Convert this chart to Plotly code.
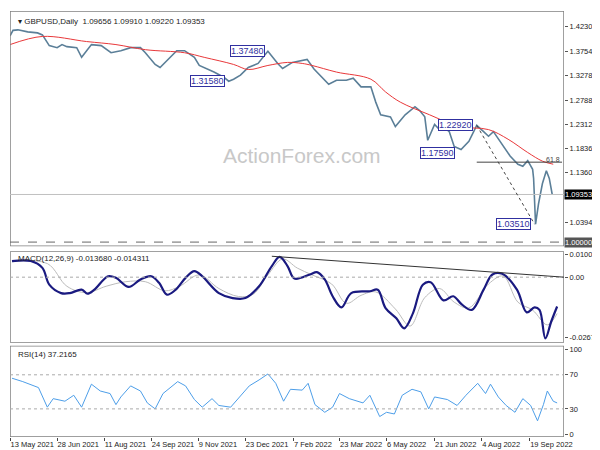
import plotly.graph_objects as go

# price panel (x in bar numbers, ~1.5 px per bar)
price_px = [2, 5, 10, 20, 30, 35, 42, 50, 55, 60, 70, 75, 85, 95, 105, 115, 125, 135, 140, 150, 155, 165, 172, 180,
            190, 195, 200, 210, 220, 225, 230, 237, 245, 255, 262, 265, 275, 280, 290, 300, 305, 312, 320, 327, 335,
            345, 352, 360, 370, 375, 380, 390, 395, 405, 415, 420, 425, 428, 435, 440, 445, 450, 455, 462, 470, 478,
            485, 490, 495, 505, 512, 520, 525, 530, 535, 536, 538, 541, 545, 549, 552, 555]
price = [1.405, 1.416, 1.417, 1.413, 1.411, 1.407, 1.386, 1.382, 1.388, 1.384, 1.382, 1.363, 1.388, 1.386, 1.372,
         1.376, 1.382, 1.382, 1.372, 1.349, 1.343, 1.363, 1.376, 1.376, 1.363, 1.347, 1.343, 1.334, 1.324, 1.316,
         1.320, 1.328, 1.343, 1.351, 1.368, 1.3748, 1.351, 1.341, 1.353, 1.357, 1.359, 1.340, 1.324, 1.310, 1.318,
         1.318, 1.322, 1.305, 1.305, 1.275, 1.250, 1.246, 1.227, 1.250, 1.266, 1.258, 1.246, 1.200, 1.231, 1.221,
         1.225, 1.217, 1.188, 1.182, 1.198, 1.2292, 1.217, 1.208, 1.217, 1.188, 1.169, 1.153, 1.149, 1.160, 1.143,
         1.125, 1.0351, 1.075, 1.115, 1.140, 1.125, 1.0935]
ma_px = [2, 35, 80, 110, 140, 180, 200, 230, 245, 265, 285, 300, 310, 335, 370, 385, 400, 430, 460, 490, 510, 530, 545, 556]
ma = [1.388, 1.404, 1.394, 1.388, 1.378, 1.372, 1.363, 1.349, 1.339, 1.347, 1.353, 1.351, 1.347, 1.334, 1.320,
      1.295, 1.275, 1.250, 1.227, 1.221, 1.202, 1.176, 1.159, 1.153]

# MACD panel
macd_px = [4, 23, 35, 42, 54, 63, 75, 81, 88, 102, 110, 123, 135, 146, 154, 162, 171, 181, 190, 198, 215, 229, 242,
           256, 269, 277, 285, 292, 308, 315, 323, 331, 340, 350, 369, 377, 385, 396, 404, 413, 423, 431, 444, 454,
           463, 473, 485, 494, 504, 519, 529, 537, 542, 548, 554, 560]
macd = [0.0071, 0.0071, 0.0041, -0.0033, -0.0070, -0.0070, -0.0055, -0.0073, -0.0055, 0.0004, -0.0003, -0.0043,
        -0.0010, 0.0004, -0.0025, -0.0077, -0.0055, -0.0003, 0.0027, 0.0004, -0.0070, -0.0092, -0.0092, -0.0040,
        0.0049, 0.0089, 0.0049, -0.0006, 0.0012, 0.0022, -0.0010, -0.0084, -0.0133, -0.0070, -0.0062, -0.0055,
        -0.0136, -0.0181, -0.0225, -0.0158, -0.0033, -0.0022, -0.0102, -0.0084, -0.0121, -0.0144, -0.0055, 0.0012,
        0.0015, -0.0055, -0.0155, -0.0133, -0.0144, -0.0269, -0.0195, -0.0129]
signal_px = [4, 40, 60, 80, 100, 120, 140, 160, 175, 195, 215, 235, 250, 265, 280, 295, 310, 330, 345, 360, 375,
             395, 410, 425, 440, 455, 470, 490, 505, 520, 535, 550, 560]
signal = [0.0068, 0.0060, -0.0040, -0.0068, -0.0040, -0.0020, -0.0020, -0.0060, -0.0040, 0.0010, -0.0050, -0.0085,
          -0.0075, 0.0010, 0.0080, 0.0040, 0.0010, -0.0030, -0.0115, -0.0080, -0.0065, -0.0140, -0.0215, -0.0090,
          -0.0050, -0.0110, -0.0135, -0.0030, 0.0005, -0.0110, -0.0145, -0.0210, -0.0160]

# RSI panel
rsi_px = [4, 15, 31, 40, 46, 58, 67, 75, 85, 94, 104, 110, 115, 125, 135, 142, 150, 158, 173, 181, 190, 198, 208,
          215, 227, 238, 246, 256, 265, 273, 281, 288, 300, 306, 313, 323, 331, 338, 348, 362, 369, 379, 386, 394,
          402, 412, 421, 429, 435, 448, 458, 467, 479, 487, 492, 500, 508, 517, 525, 533, 540, 546, 550, 556, 560]
rsi = [66, 62, 55, 32, 42, 39, 46, 32, 59, 51, 48, 35, 44, 57, 51, 37, 30, 48, 62, 57, 41, 32, 42, 34, 32, 46, 57,
       64, 71, 60, 39, 53, 52, 60, 35, 26, 32, 48, 42, 37, 46, 21, 26, 24, 46, 53, 50, 30, 44, 41, 34, 46, 60, 48,
       59, 44, 34, 26, 42, 34, 16, 35, 51, 39, 37]

tick_px = [2, 50, 98, 146, 194, 242, 291, 338, 386, 435, 483, 532]
tick_text = ["13 May 2021", "28 Jun 2021", "11 Aug 2021", "24 Sep 2021", "9 Nov 2021", "23 Dec 2021",
             "7 Feb 2022", "23 Mar 2022", "6 May 2022", "21 Jun 2022", "4 Aug 2022", "19 Sep 2022"]
price_ticks = [1.42300, 1.37540, 1.32780, 1.27880, 1.23120, 1.18360, 1.13600, 1.03940]
price_labels = [(1.37480, 244), (1.31580, 203), (1.22920, 456), (1.17590, 438), (1.03510, 515)]


def bx(p):
    return [v / 1.5 for v in p]


fig = go.Figure()
fig.add_trace(go.Scatter(x=bx(price_px), y=price, mode="lines", line=dict(color="#5b7f98", width=1.6),
                         yaxis="y", hoverinfo="skip"))
fig.add_trace(go.Scatter(x=bx(ma_px), y=ma, mode="lines", line=dict(color="#e8383a", width=1, shape="spline"),
                         yaxis="y"))
fig.add_trace(go.Scatter(x=bx(signal_px), y=signal, mode="lines", line=dict(color="#bbbbbb", width=1, shape="spline"),
                         yaxis="y2"))
fig.add_trace(go.Scatter(x=bx(macd_px), y=macd, mode="lines", line=dict(color="#1a1a80", width=2.2, shape="spline"),
                         yaxis="y2"))
fig.add_trace(go.Scatter(x=bx(rsi_px), y=rsi, mode="lines", line=dict(color="#4d9ee8", width=1),
                         yaxis="y3"))

xr = [1.3, 378]
shapes = []
# panel frames
for y0, y1, ref in [(0.992, 1.454, "y"), (-0.0289, 0.0114, "y2"), (-3, 104, "y3")]:
    shapes.append(dict(type="rect", xref="x", yref=ref, x0=xr[0], x1=xr[1], y0=y0, y1=y1,
                       line=dict(color="#808080", width=1.5)))
shapes += [
    dict(type="line", xref="x", yref="y", x0=xr[0], x1=xr[1], y0=1.09353, y1=1.09353, line=dict(color="#c0c0c0", width=1)),
    dict(type="line", xref="x", yref="y", x0=xr[0], x1=xr[1], y0=1.0, y1=1.0, line=dict(color="#666", width=1, dash="dash")),
    dict(type="line", xref="x", yref="y", x0=478 / 1.5, x1=565 / 1.5, y0=1.157, y1=1.157, line=dict(color="#444", width=1)),
    dict(type="line", xref="x", yref="y", x0=478 / 1.5, x1=537 / 1.5, y0=1.2292, y1=1.0351, line=dict(color="#444", width=1, dash="dot")),
    dict(type="line", xref="x", yref="y2", x0=xr[0], x1=xr[1], y0=0, y1=0, line=dict(color="#aaa", width=1, dash="dot")),
    dict(type="line", xref="x", yref="y2", x0=269 / 1.5, x1=xr[1], y0=0.0092, y1=0.0, line=dict(color="#333", width=1)),
    dict(type="line", xref="x", yref="y3", x0=xr[0], x1=xr[1], y0=70, y1=70, line=dict(color="#aaa", width=1, dash="dot")),
    dict(type="line", xref="x", yref="y3", x0=xr[0], x1=xr[1], y0=30, y1=30, line=dict(color="#aaa", width=1, dash="dot")),
]

ann = []
for v, px in price_labels:
    ann.append(dict(x=px / 1.5, y=v, xref="x", yref="y", text=f"{v:.5f}", showarrow=False,
                    font=dict(size=9, color="#3030a0"), bgcolor="white", bordercolor="#3030a0", borderwidth=1, borderpad=0))
ann += [
    dict(x=1.0, y=1.09353, xref="paper", yref="y", text="1.09353", showarrow=False, xanchor="left", xshift=0,
         font=dict(size=7.5, color="white"), bgcolor="black", borderpad=0),
    dict(x=1.0, y=1.0, xref="paper", yref="y", text="1.00000", showarrow=False, xanchor="left", xshift=0,
         font=dict(size=7.5, color="white"), bgcolor="#555", borderpad=0),
    dict(x=556 / 1.5, y=1.163, xref="x", yref="y", text="61.8", showarrow=False, font=dict(size=7, color="#444")),
    dict(x=0.01, y=1.447, xref="paper", yref="y", text="▾ GBPUSD,Daily  1.09656 1.09910 1.09220 1.09353",
         showarrow=False, xanchor="left", yanchor="top", font=dict(size=8, color="#222")),
    dict(x=0.01, y=0.0112, xref="paper", yref="y2", text="MACD(12,26,9) -0.013680 -0.014311",
         showarrow=False, xanchor="left", yanchor="top", font=dict(size=8, color="#222")),
    dict(x=0.01, y=102, xref="paper", yref="y3", text="RSI(14) 37.2165",
         showarrow=False, xanchor="left", yanchor="top", font=dict(size=8, color="#222")),
    dict(x=300 / 1.5, y=1.171, xref="x", yref="y", text="ActionForex.com", showarrow=False,
         font=dict(size=21, color="#c8c8c8", family="Liberation Sans")),
]

ax = dict(side="right", showgrid=False, zeroline=False, ticks="outside", ticklen=3, tickcolor="#555",
          tickfont=dict(size=7.5, color="#222"), showline=False, anchor="x")
fig.update_layout(
    width=600, height=450, margin=dict(l=2, r=44, t=3, b=21),
    plot_bgcolor="white", paper_bgcolor="white", showlegend=False,
    font=dict(family="Liberation Sans"),
    xaxis=dict(range=xr, showgrid=False, zeroline=False, tickvals=bx(tick_px), ticktext=tick_text, anchor="y3",
               ticks="outside", ticklen=3, tickangle=0, tickfont=dict(size=7.5, color="#222"),
               ticklabelposition="outside right"),
    yaxis=dict(ax, domain=[0.448, 1.0], range=[0.992, 1.454], tickvals=price_ticks,
               ticktext=[f"{v:.5f}" for v in price_ticks]),
    yaxis2=dict(ax, domain=[0.221, 0.436], range=[-0.0289, 0.0114], tickvals=[0.010071, 0.0, -0.0267],
                ticktext=["0.010071", "0.00", "-0.0267"]),
    yaxis3=dict(ax, domain=[0.0, 0.214], range=[-3, 104], tickvals=[100, 70, 30, 0]),
    shapes=shapes, annotations=ann,
)
fig.write_html("out.html")
